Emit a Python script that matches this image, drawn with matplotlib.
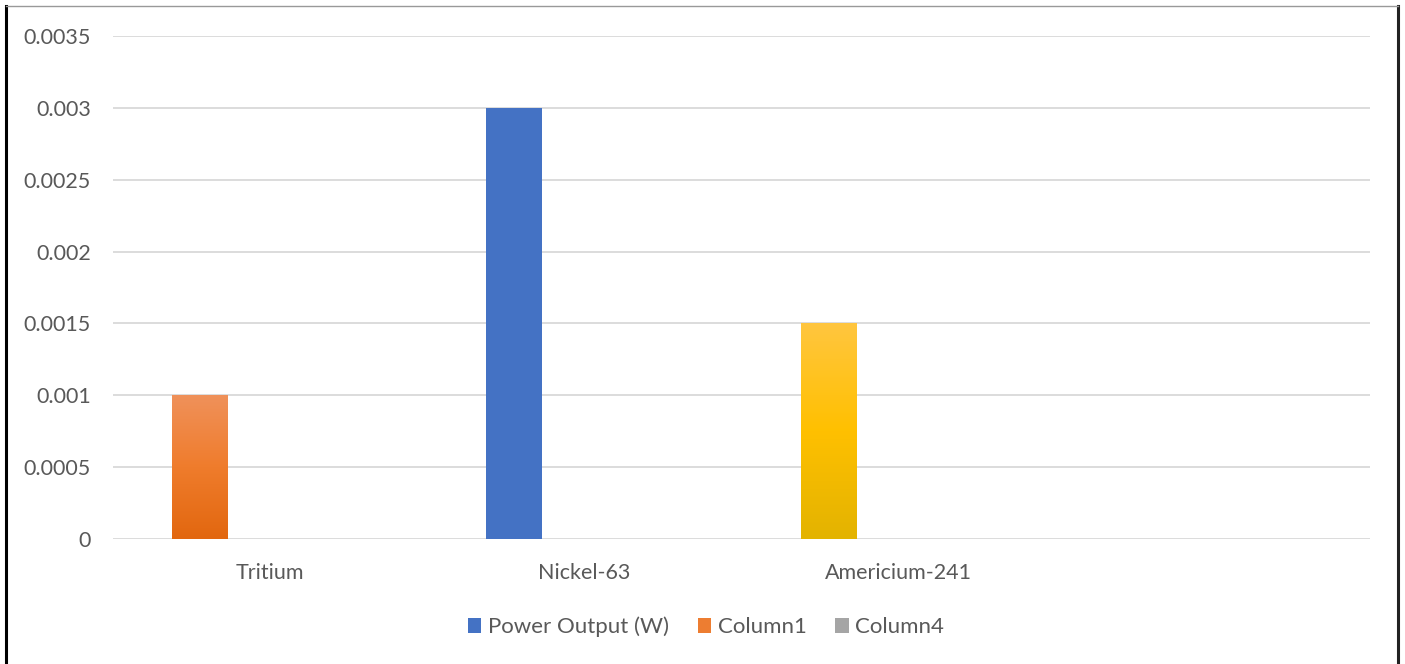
import numpy as np
import matplotlib.pyplot as plt
from matplotlib.colors import LinearSegmentedColormap
from matplotlib.lines import Line2D
from matplotlib.patches import Patch

categories = ["Tritium", "Nickel-63", "Americium-241", ""]
power_output = [0.001, 0.003, 0.0015, np.nan]
# per-point fills: (top, middle, bottom); None means a flat fill
point_fills = [
    ("#F0915A", "#EF7C2C", "#E2670F"),
    None,
    ("#FFC63F", "#FFC000", "#E3B300"),
    None,
]
series_names = ["Power Output (W)", "Column1", "Column4"]
series_colors = ["#4472C4", "#ED7D31", "#A5A5A5"]
y_ticks = [0, 0.0005, 0.001, 0.0015, 0.002, 0.0025, 0.003, 0.0035]
y_labels = ["0", "0.0005", "0.001", "0.0015", "0.002", "0.0025", "0.003", "0.0035"]

plt.rcParams["font.family"] = ["Lato", "DejaVu Sans"]
text_color = "#595959"

fig = plt.figure(figsize=(14.05, 6.64), dpi=100)
ax = fig.add_axes([113 / 1405, 1 - 539 / 664, 1257 / 1405, 503 / 664])

x = np.arange(len(categories))
bar_width = 0.178
offset = -0.223

bars = ax.bar(x + offset, power_output, width=bar_width, color=series_colors[0],
              zorder=3)

for rect, fill, val in zip(bars, point_fills, power_output):
    if fill is None or np.isnan(val):
        continue
    rect.set_facecolor("none")
    rect.set_edgecolor("none")
    cmap = LinearSegmentedColormap.from_list("grad", list(fill[::-1]))
    grad = np.linspace(0, 1, 256).reshape(-1, 1)
    x0 = rect.get_x()
    ax.imshow(grad, cmap=cmap, origin="lower", aspect="auto",
              extent=(x0, x0 + rect.get_width(), 0, val), zorder=3)

ax.set_xlim(-0.5, len(categories) - 0.5)
ax.set_ylim(0, 0.0035)
ax.set_yticks(y_ticks)
ax.set_yticklabels(y_labels)
ax.set_xticks(x)
ax.set_xticklabels(categories)
ax.tick_params(axis="both", length=0, labelsize=15.5, colors=text_color)
ax.tick_params(axis="y", pad=16)
ax.tick_params(axis="x", pad=17)
ax.grid(axis="y", color="#D9D9D9", linewidth=1.3, zorder=0)
for side in ["top", "right", "left", "bottom"]:
    ax.spines[side].set_visible(False)

handles = [Patch(facecolor=c, edgecolor="none") for c in series_colors]
fig.legend(handles, series_names, loc="center", bbox_to_anchor=(706 / 1405, 1 - 627 / 664),
           ncol=3, frameon=False, fontsize=16, handlelength=0.6, handleheight=0.6,
           handletextpad=0.3, columnspacing=1.3, labelcolor=text_color)

# outer frame
fig.add_artist(Line2D([6 / 1405, 6 / 1405], [0, 1 - 6 / 664], color="black", linewidth=2.2,
                      transform=fig.transFigure))
fig.add_artist(Line2D([1398 / 1405, 1398 / 1405], [0, 1 - 6 / 664], color="#222222",
                      linewidth=2.2, transform=fig.transFigure))
fig.add_artist(Line2D([6 / 1405, 1398 / 1405], [1 - 6 / 664, 1 - 6 / 664], color="#999999",
                      linewidth=1.0, transform=fig.transFigure))

fig.savefig("out.png", dpi=100)
